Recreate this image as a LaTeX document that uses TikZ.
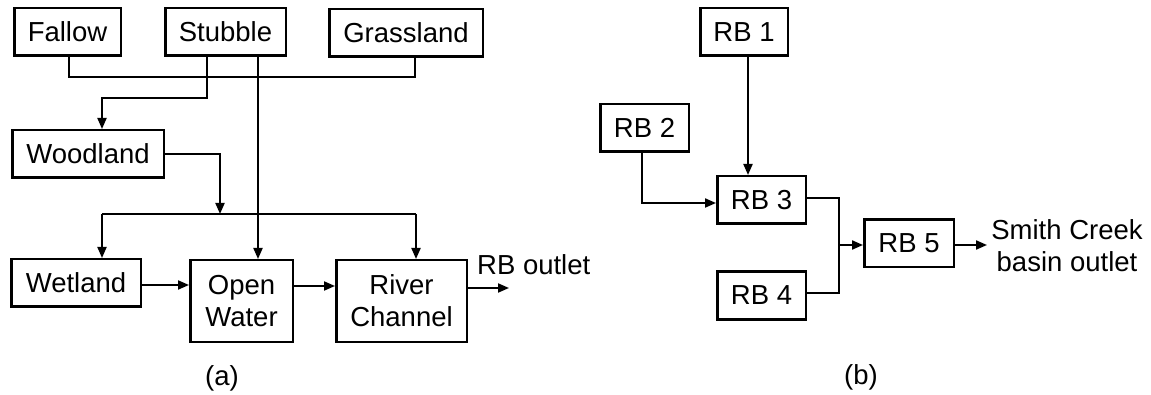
\documentclass[tikz,border=0pt]{standalone}
\usepackage{fontspec}
\setmainfont{Liberation Sans}
\usetikzlibrary{arrows.meta}
\begin{document}
\begin{tikzpicture}[x=1pt,y=-1pt,
  every node/.style={font=\fontsize{27.5}{32}\selectfont, inner sep=0pt},
  blk/.style={draw, line width=2.5pt, align=center, minimum height=47.5pt},
  tallblk/.style={blk, minimum height=81.5pt},
  conn/.style={line width=2pt},
  arr/.style={conn, -{Triangle[length=11pt,width=9pt]}},
  lbl/.style={align=center}
]
\useasboundingbox (0,0) rectangle (1151,395);
% ---- (a) ----
\node[blk, minimum width=106.5pt] (fallow) at (67.5,32) {Fallow};
\node[blk, minimum width=120.5pt] (stubble) at (225.5,32) {Stubble};
\node[blk, minimum width=153.5pt] (grass) at (406,33) {Grassland};
\node[blk, minimum width=151.5pt] (wood) at (88,154) {Woodland};
\node[blk, minimum width=129.5pt] (wet) at (76,283) {Wetland};
\node[tallblk, minimum width=102.5pt] (ow) at (241.5,301) {Open\\Water};
\node[tallblk, minimum width=130.5pt] (rc) at (401.5,301) {River\\Channel};
\coordinate (fg) at (200,77);
\coordinate (s1) at (207,98);
\coordinate (j1) at (220,214);
\coordinate (bL) at (102,214);
\coordinate (bR) at (416,214);
\coordinate (outA) at (509,288);
\draw[conn] ([xshift=1.5pt]fallow.south) |- (fg) -| ([xshift=9pt]grass.south);
\draw[arr] ([xshift=-18.5pt]stubble.south) -- (s1) -| ([xshift=14pt]wood.north);
\draw[arr] ([xshift=32.5pt]stubble.south) -- ([xshift=16.5pt]ow.north);
\draw[arr] (wood.east) -| (j1);
\draw[conn] (bL) -- (bR);
\draw[arr] (bL) -- ([xshift=26pt]wet.north);
\draw[arr] (bR) -- ([xshift=14.5pt]rc.north);
\draw[arr] ([yshift=-2pt]wet.east) -- ([yshift=-2pt]wet.east -| ow.west);
\draw[arr] ([yshift=15pt]ow.east) -- ([yshift=15pt]ow.east -| rc.west);
\draw[arr] ([yshift=13pt]rc.east) -- (outA);
\node[anchor=base west] (rbout) at (477,275) {RB outlet};
\node (la) at (222,378) {(a)};
% ---- (b) ----
\node[blk, minimum width=87.5pt] (rb1) at (744,32) {RB 1};
\node[blk, minimum width=88.5pt] (rb2) at (644.5,128) {RB 2};
\node[blk, minimum width=88.5pt] (rb3) at (761.5,200) {RB 3};
\node[blk, minimum width=88.5pt] (rb4) at (761.5,295.5) {RB 4};
\node[blk, minimum width=89.5pt] (rb5) at (909,243.5) {RB 5};
\coordinate (m1) at (839,245);
\coordinate (scA) at (987,245);
\draw[arr] ([xshift=4pt]rb1.south) -- ([xshift=4pt]rb1.south |- rb3.north);
\draw[arr] ([xshift=-2.5pt]rb2.south) |- ([yshift=-3pt]rb3.west);
\draw[conn] ([yshift=2pt]rb3.east) -| (m1) |- ([yshift=2.5pt]rb4.east);
\draw[arr] (m1) -- (m1 -| rb5.west);
\draw[arr] (rb5.east |- scA) -- (scA);
\node[lbl] (smith) at (1067,246) {Smith Creek\\basin outlet};
\node (lb) at (861,377) {(b)};
\end{tikzpicture}
\end{document}
